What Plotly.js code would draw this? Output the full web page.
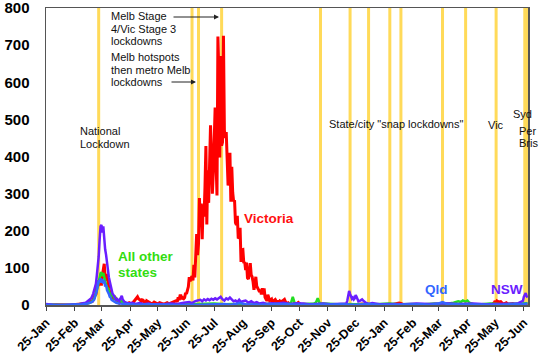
<!DOCTYPE html>
<html>
<head>
<meta charset="utf-8">
<script src="https://cdn.plot.ly/plotly-3.0.1.min.js"></script>
<style>
  html, body { margin: 0; padding: 0; background: #fff; }
  #chart { width: 548px; height: 358px; }
</style>
</head>
<body>
<div id="chart"></div>
<script>
// ---- Data (daily new cases) ----
const victoria = [
  ['2020-01-25',0],['2020-02-05',1],['2020-02-20',0],['2020-03-02',2],['2020-03-06',3],['2020-03-09',4],
  ['2020-03-11',6],['2020-03-13',9],['2020-03-14',13],['2020-03-15',8],['2020-03-16',14],['2020-03-17',23],
  ['2020-03-18',27],['2020-03-19',29],['2020-03-20',49],['2020-03-21',51],['2020-03-22',67],['2020-03-23',56],
  ['2020-03-24',55],['2020-03-25',56],['2020-03-26',80],['2020-03-27',95],['2020-03-28',111],['2020-03-29',74],
  ['2020-03-30',66],['2020-03-31',84],['2020-04-01',60],['2020-04-02',45],['2020-04-03',35],['2020-04-04',30],
  ['2020-04-05',24],['2020-04-06',20],['2020-04-07',21],['2020-04-08',14],['2020-04-09',19],['2020-04-10',13],
  ['2020-04-11',12],['2020-04-12',9],['2020-04-13',6],['2020-04-14',12],['2020-04-16',8],['2020-04-18',4],
  ['2020-04-20',3],['2020-04-22',3],['2020-04-24',6],['2020-04-26',3],['2020-04-28',6],['2020-04-30',12],
  ['2020-05-01',13],['2020-05-02',16],['2020-05-03',22],['2020-05-04',17],['2020-05-05',16],['2020-05-06',13],
  ['2020-05-07',10],['2020-05-08',14],['2020-05-09',13],['2020-05-10',7],['2020-05-11',11],['2020-05-12',2],
  ['2020-05-13',11],['2020-05-15',7],['2020-05-17',5],['2020-05-19',3],['2020-05-21',8],['2020-05-23',5],
  ['2020-05-25',3],['2020-05-27',6],['2020-05-29',4],['2020-05-31',2],['2020-06-02',4],['2020-06-04',6],
  ['2020-06-06',3],['2020-06-08',5],['2020-06-10',8],['2020-06-12',10],['2020-06-14',12],['2020-06-15',8],
  ['2020-06-16',21],['2020-06-17',13],['2020-06-18',25],['2020-06-19',25],['2020-06-20',16],['2020-06-21',19],
  ['2020-06-22',17],['2020-06-23',20],['2020-06-24',33],['2020-06-25',30],['2020-06-26',41],['2020-06-27',49],
  ['2020-06-28',75],['2020-06-29',64],['2020-06-30',73],['2020-07-01',77],['2020-07-02',66],['2020-07-03',108],
  ['2020-07-04',74],['2020-07-05',127],['2020-07-06',191],['2020-07-07',134],['2020-07-08',165],['2020-07-09',288],
  ['2020-07-10',216],['2020-07-11',273],['2020-07-12',177],['2020-07-13',270],['2020-07-14',238],['2020-07-15',317],
  ['2020-07-16',428],['2020-07-17',217],['2020-07-18',363],['2020-07-19',275],['2020-07-20',374],['2020-07-21',484],
  ['2020-07-22',403],['2020-07-23',300],['2020-07-24',357],['2020-07-25',459],['2020-07-26',532],['2020-07-27',384],
  ['2020-07-28',295],['2020-07-29',723],['2020-07-30',627],['2020-07-31',397],['2020-08-01',671],['2020-08-02',429],
  ['2020-08-03',439],['2020-08-04',725],['2020-08-05',471],['2020-08-06',450],['2020-08-07',466],['2020-08-08',394],
  ['2020-08-09',322],['2020-08-10',331],['2020-08-11',410],['2020-08-12',278],['2020-08-13',372],['2020-08-14',303],
  ['2020-08-15',279],['2020-08-16',282],['2020-08-17',222],['2020-08-18',216],['2020-08-19',240],['2020-08-20',179],
  ['2020-08-21',182],['2020-08-22',208],['2020-08-23',116],['2020-08-24',148],['2020-08-25',149],['2020-08-26',113],
  ['2020-08-27',116],['2020-08-28',94],['2020-08-29',114],['2020-08-30',73],['2020-08-31',70],['2020-09-01',90],
  ['2020-09-02',113],['2020-09-03',81],['2020-09-04',76],['2020-09-05',63],['2020-09-06',41],['2020-09-07',55],
  ['2020-09-08',76],['2020-09-09',51],['2020-09-10',43],['2020-09-11',41],['2020-09-12',35],['2020-09-13',42],
  ['2020-09-14',28],['2020-09-15',45],['2020-09-16',28],['2020-09-17',45],['2020-09-18',21],['2020-09-19',14],
  ['2020-09-20',11],['2020-09-21',28],['2020-09-22',15],['2020-09-23',12],['2020-09-24',14],['2020-09-25',16],
  ['2020-09-26',5],['2020-09-27',10],['2020-09-28',13],['2020-09-29',15],['2020-09-30',8],['2020-10-01',6],
  ['2020-10-02',12],['2020-10-03',7],['2020-10-04',11],['2020-10-05',9],['2020-10-07',11],['2020-10-09',15],
  ['2020-10-11',4],['2020-10-13',6],['2020-10-15',2],['2020-10-17',1],['2020-10-19',3],['2020-10-21',1],
  ['2020-10-24',7],['2020-10-27',0],['2020-10-30',2],['2020-11-03',1],['2020-11-08',0],['2020-12-20',0],
  ['2021-01-01',3],['2021-01-05',1],['2021-01-10',0],['2021-02-01',0],['2021-02-04',2],['2021-02-08',3],
  ['2021-02-10',5],['2021-02-12',4],['2021-02-15',1],['2021-02-20',0],['2021-05-10',0],['2021-05-22',2],
  ['2021-05-24',6],['2021-05-25',11],['2021-05-26',4],['2021-05-27',11],['2021-05-29',8],['2021-05-31',9],
  ['2021-06-02',4],['2021-06-04',3],['2021-06-06',6],['2021-06-08',2],['2021-06-10',3],['2021-06-13',4],
  ['2021-06-16',1],['2021-06-20',0],['2021-06-24',1],['2021-06-29',0]
];

const otherStates = [
  ['2020-01-25',0],['2020-02-01',1],['2020-02-20',0],['2020-03-03',2],['2020-03-08',3],['2020-03-12',5],
  ['2020-03-14',8],['2020-03-16',12],['2020-03-17',16],['2020-03-18',22],['2020-03-19',30],['2020-03-20',42],
  ['2020-03-21',50],['2020-03-22',62],['2020-03-23',75],['2020-03-24',85],['2020-03-25',88],['2020-03-26',78],
  ['2020-03-27',86],['2020-03-28',72],['2020-03-29',62],['2020-03-30',55],['2020-03-31',48],['2020-04-01',45],
  ['2020-04-02',38],['2020-04-03',30],['2020-04-04',30],['2020-04-05',26],['2020-04-06',28],['2020-04-07',22],
  ['2020-04-08',18],['2020-04-09',20],['2020-04-10',14],['2020-04-12',12],['2020-04-14',15],['2020-04-16',8],
  ['2020-04-19',5],['2020-04-23',3],['2020-04-28',2],['2020-05-05',1],['2020-05-15',2],['2020-05-25',1],
  ['2020-06-05',3],['2020-06-15',1],['2020-06-25',2],['2020-07-05',3],['2020-07-15',2],['2020-07-25',4],
  ['2020-08-05',2],['2020-08-15',3],['2020-08-25',1],['2020-09-05',2],['2020-09-15',3],['2020-09-25',2],
  ['2020-10-05',4],['2020-10-12',3],['2020-10-16',5],['2020-10-18',22],['2020-10-20',5],['2020-10-26',2],
  ['2020-11-05',3],['2020-11-10',4],['2020-11-12',6],['2020-11-14',18],['2020-11-16',5],['2020-11-25',3],
  ['2020-12-05',2],['2020-12-15',3],['2020-12-25',2],['2021-01-05',3],['2021-01-15',2],['2021-01-30',4],
  ['2021-02-10',2],['2021-02-25',3],['2021-03-10',2],['2021-03-20',4],['2021-04-01',3],['2021-04-10',6],
  ['2021-04-15',10],['2021-04-18',8],['2021-04-20',12],['2021-04-23',9],['2021-04-25',12],['2021-04-27',6],
  ['2021-05-01',3],['2021-05-10',2],['2021-05-20',4],['2021-06-01',2],['2021-06-15',3],['2021-06-29',5]
];

const nsw = [
  ['2020-01-25',3],['2020-02-01',1],['2020-02-15',0],['2020-03-01',2],['2020-03-05',5],['2020-03-08',6],
  ['2020-03-10',10],['2020-03-12',14],['2020-03-14',18],['2020-03-16',30],['2020-03-17',39],['2020-03-18',45],
  ['2020-03-19',57],['2020-03-20',80],['2020-03-21',105],['2020-03-22',130],['2020-03-23',175],['2020-03-24',212],
  ['2020-03-25',216],['2020-03-26',195],['2020-03-27',212],['2020-03-28',170],['2020-03-29',150],['2020-03-30',135],
  ['2020-03-31',110],['2020-04-01',95],['2020-04-02',75],['2020-04-03',63],['2020-04-04',48],['2020-04-05',40],
  ['2020-04-06',30],['2020-04-07',27],['2020-04-08',20],['2020-04-09',18],['2020-04-10',14],['2020-04-11',16],
  ['2020-04-13',10],['2020-04-15',20],['2020-04-16',25],['2020-04-17',15],['2020-04-19',8],['2020-04-21',6],
  ['2020-04-24',4],['2020-04-27',6],['2020-05-01',3],['2020-05-05',5],['2020-05-10',2],['2020-05-15',4],
  ['2020-05-20',1],['2020-05-25',3],['2020-06-01',2],['2020-06-08',4],['2020-06-15',3],['2020-06-22',6],
  ['2020-06-28',8],['2020-07-01',5],['2020-07-04',10],['2020-07-07',12],['2020-07-10',14],['2020-07-12',10],
  ['2020-07-14',15],['2020-07-16',12],['2020-07-18',16],['2020-07-20',13],['2020-07-22',17],['2020-07-24',14],
  ['2020-07-26',18],['2020-07-28',15],['2020-07-30',19],['2020-08-01',22],['2020-08-03',15],['2020-08-05',12],
  ['2020-08-07',18],['2020-08-09',15],['2020-08-11',20],['2020-08-13',14],['2020-08-15',10],['2020-08-17',12],
  ['2020-08-19',8],['2020-08-21',14],['2020-08-23',8],['2020-08-25',10],['2020-08-28',12],['2020-08-31',6],
  ['2020-09-03',10],['2020-09-06',5],['2020-09-09',8],['2020-09-12',4],['2020-09-16',6],['2020-09-20',3],
  ['2020-09-25',5],['2020-10-01',4],['2020-10-08',6],['2020-10-15',3],['2020-10-22',5],['2020-10-29',4],
  ['2020-11-05',2],['2020-11-12',3],['2020-11-20',4],['2020-11-28',2],['2020-12-05',3],['2020-12-12',2],
  ['2020-12-15',4],['2020-12-16',12],['2020-12-17',28],['2020-12-18',38],['2020-12-19',30],['2020-12-20',22],
  ['2020-12-21',17],['2020-12-22',20],['2020-12-23',15],['2020-12-24',18],['2020-12-25',27],['2020-12-26',22],
  ['2020-12-27',14],['2020-12-28',10],['2020-12-30',12],['2021-01-01',15],['2021-01-03',10],['2021-01-05',6],
  ['2021-01-08',3],['2021-01-12',5],['2021-01-20',2],['2021-02-01',3],['2021-02-15',2],['2021-03-01',4],
  ['2021-03-15',3],['2021-04-01',5],['2021-04-15',3],['2021-05-01',4],['2021-05-15',2],['2021-06-01',3],
  ['2021-06-10',2],['2021-06-16',4],['2021-06-19',5],['2021-06-22',8],['2021-06-24',11],['2021-06-25',22],
  ['2021-06-26',30],['2021-06-27',32],['2021-06-28',24],['2021-06-29',20]
];

const qld = [
  ['2020-01-25',0],['2020-01-29',1],['2020-02-10',0],['2020-02-25',1],['2020-03-05',2],['2020-03-10',4],
  ['2020-03-13',6],['2020-03-15',8],['2020-03-17',14],['2020-03-18',20],['2020-03-19',30],['2020-03-20',38],
  ['2020-03-21',55],['2020-03-22',66],['2020-03-23',62],['2020-03-24',72],['2020-03-25',60],['2020-03-26',70],
  ['2020-03-27',58],['2020-03-28',66],['2020-03-29',50],['2020-03-30',55],['2020-03-31',40],['2020-04-01',36],
  ['2020-04-02',30],['2020-04-03',22],['2020-04-04',20],['2020-04-05',14],['2020-04-06',12],['2020-04-08',8],
  ['2020-04-10',6],['2020-04-13',4],['2020-04-17',3],['2020-04-22',2],['2020-05-01',1],['2020-05-15',2],
  ['2020-06-01',1],['2020-06-20',0],['2020-07-10',1],['2020-07-25',2],['2020-08-01',4],['2020-08-05',3],
  ['2020-08-12',1],['2020-08-22',5],['2020-08-28',2],['2020-09-10',1],['2020-09-25',2],['2020-10-10',3],
  ['2020-10-25',1],['2020-11-10',2],['2020-11-25',1],['2020-12-10',2],['2020-12-25',1],['2021-01-08',3],
  ['2021-01-20',1],['2021-02-05',2],['2021-02-20',1],['2021-03-05',2],['2021-03-15',1],['2021-03-25',4],
  ['2021-03-29',8],['2021-03-31',6],['2021-04-03',3],['2021-04-15',2],['2021-05-01',1],['2021-05-15',2],
  ['2021-06-01',1],['2021-06-15',3],['2021-06-22',2],['2021-06-29',4]
];

const tickDates = ['2020-01-25','2020-02-25','2020-03-25','2020-04-25','2020-05-25','2020-06-25',
  '2020-07-25','2020-08-25','2020-09-25','2020-10-25','2020-11-25','2020-12-25',
  '2021-01-25','2021-02-25','2021-03-25','2021-04-25','2021-05-25','2021-06-25'];
const tickLabels = ['25-Jan','25-Feb','25-Mar','25-Apr','25-May','25-Jun','25-Jul','25-Aug','25-Sep',
  '25-Oct','25-Nov','25-Dec','25-Jan','25-Feb','25-Mar','25-Apr','25-May','25-Jun'];
const yTicks = [0,100,200,300,400,500,600,700,800];

const lockdownDates = ['2020-03-22','2020-07-01','2020-07-08','2020-08-02','2020-11-17','2020-12-19',
  '2021-01-08','2021-01-31','2021-02-12','2021-03-29','2021-04-23','2021-05-26','2021-06-26','2021-06-29'];

// ---- Build chart ----
const FONT = 'Arial, "Liberation Sans", sans-serif';
function series(data, color, width) {
  return { x: data.map(d => d[0]), y: data.map(d => d[1]), type: 'scatter', mode: 'lines',
    line: { color: color, width: width }, hoverinfo: 'skip', showlegend: false };
}
const traces = [
  series(victoria, '#ff0000', 3),
  series(otherStates, '#22dd22', 2.5),
  series(nsw, '#6a1eff', 2.5),
  series(qld, '#3366ff', 2.5)
];

const L = 46, R = 528, T = 8, B = 305;
const px = x => (x - L) / (R - L);
const py = y => (B - y) / (B - T);

function txt(s, x, y, opts) {
  return Object.assign({ text: s, xref: 'paper', yref: 'paper', x: px(x), y: py(y),
    xanchor: 'left', yanchor: 'middle', showarrow: false, borderpad: 0,
    font: { family: FONT, size: 11, color: '#111' } }, opts || {});
}
function lbl(s, x, y, color) {
  return txt(s, x, y, { font: { family: FONT, size: 13.5, color: color, weight: 'bold' } });
}
function arrow(hx, hy, tx) {
  return { text: '', xref: 'paper', yref: 'paper', x: px(hx), y: py(hy), ax: tx - hx, ay: 0,
    showarrow: true, arrowhead: 2, arrowsize: 1, arrowwidth: 1, arrowcolor: '#222', standoff: 0 };
}

const annotations = [
  txt('Melb Stage', 110, 16), txt('4/Vic Stage 3', 110, 29), txt('lockdowns', 110, 41),
  txt('Melb hotspots', 110, 57), txt('then metro Melb', 110, 70), txt('lockdowns', 110, 82),
  txt('National', 79, 131), txt('Lockdown', 79, 144),
  txt('State/city "snap lockdowns"', 328, 124),
  txt('Vic', 487, 125), txt('Syd', 512, 114), txt('Per', 518, 131), txt('Bris', 518, 143),
  lbl('Victoria', 243, 218, '#ff1111'),
  lbl('All other', 117, 256, '#33dd11'), lbl('states', 117, 272, '#33dd11'),
  lbl('Qld', 424, 289, '#3366ff'), lbl('NSW', 490, 289, '#6a1eff'),
  arrow(219, 17, 172), arrow(196, 82, 170)
];

const shapes = lockdownDates.map(d => ({
  type: 'line', xref: 'x', yref: 'paper', x0: d, x1: d, y0: 0, y1: 1, layer: 'below',
  line: { color: 'rgba(255,212,60,0.85)', width: 3 }
}));

const layout = {
  width: 548, height: 358,
  margin: { l: L, r: 548 - R, t: T, b: 358 - B, pad: 0 },
  paper_bgcolor: '#fff', plot_bgcolor: '#fff',
  showlegend: false,
  font: { family: FONT, color: '#000' },
  xaxis: {
    type: 'date', range: ['2020-01-25', '2021-06-29 12:00'],
    tickmode: 'array', tickvals: tickDates, ticktext: tickLabels, tickangle: -45,
    ticks: 'outside', ticklen: 4, tickcolor: '#444', tickwidth: 1,
    tickfont: { family: FONT, size: 12.5, color: '#000', weight: 'bold' },
    ticklabeloverflow: 'allow',
    showgrid: false, zeroline: false, showline: true, linecolor: '#555', linewidth: 1.5, mirror: true
  },
  yaxis: {
    range: [0, 800], tickmode: 'array', tickvals: yTicks, ticks: '',
    ticklabelstandoff: 12, ticklabeloverflow: 'allow',
    tickfont: { family: FONT, size: 15, color: '#000', weight: 'bold' },
    showgrid: false, zeroline: false, showline: true, linecolor: '#555', linewidth: 1.5, mirror: true
  },
  shapes: shapes,
  annotations: annotations
};

Plotly.newPlot('chart', traces, layout, { displayModeBar: false, staticPlot: true });
</script>
</body>
</html>
